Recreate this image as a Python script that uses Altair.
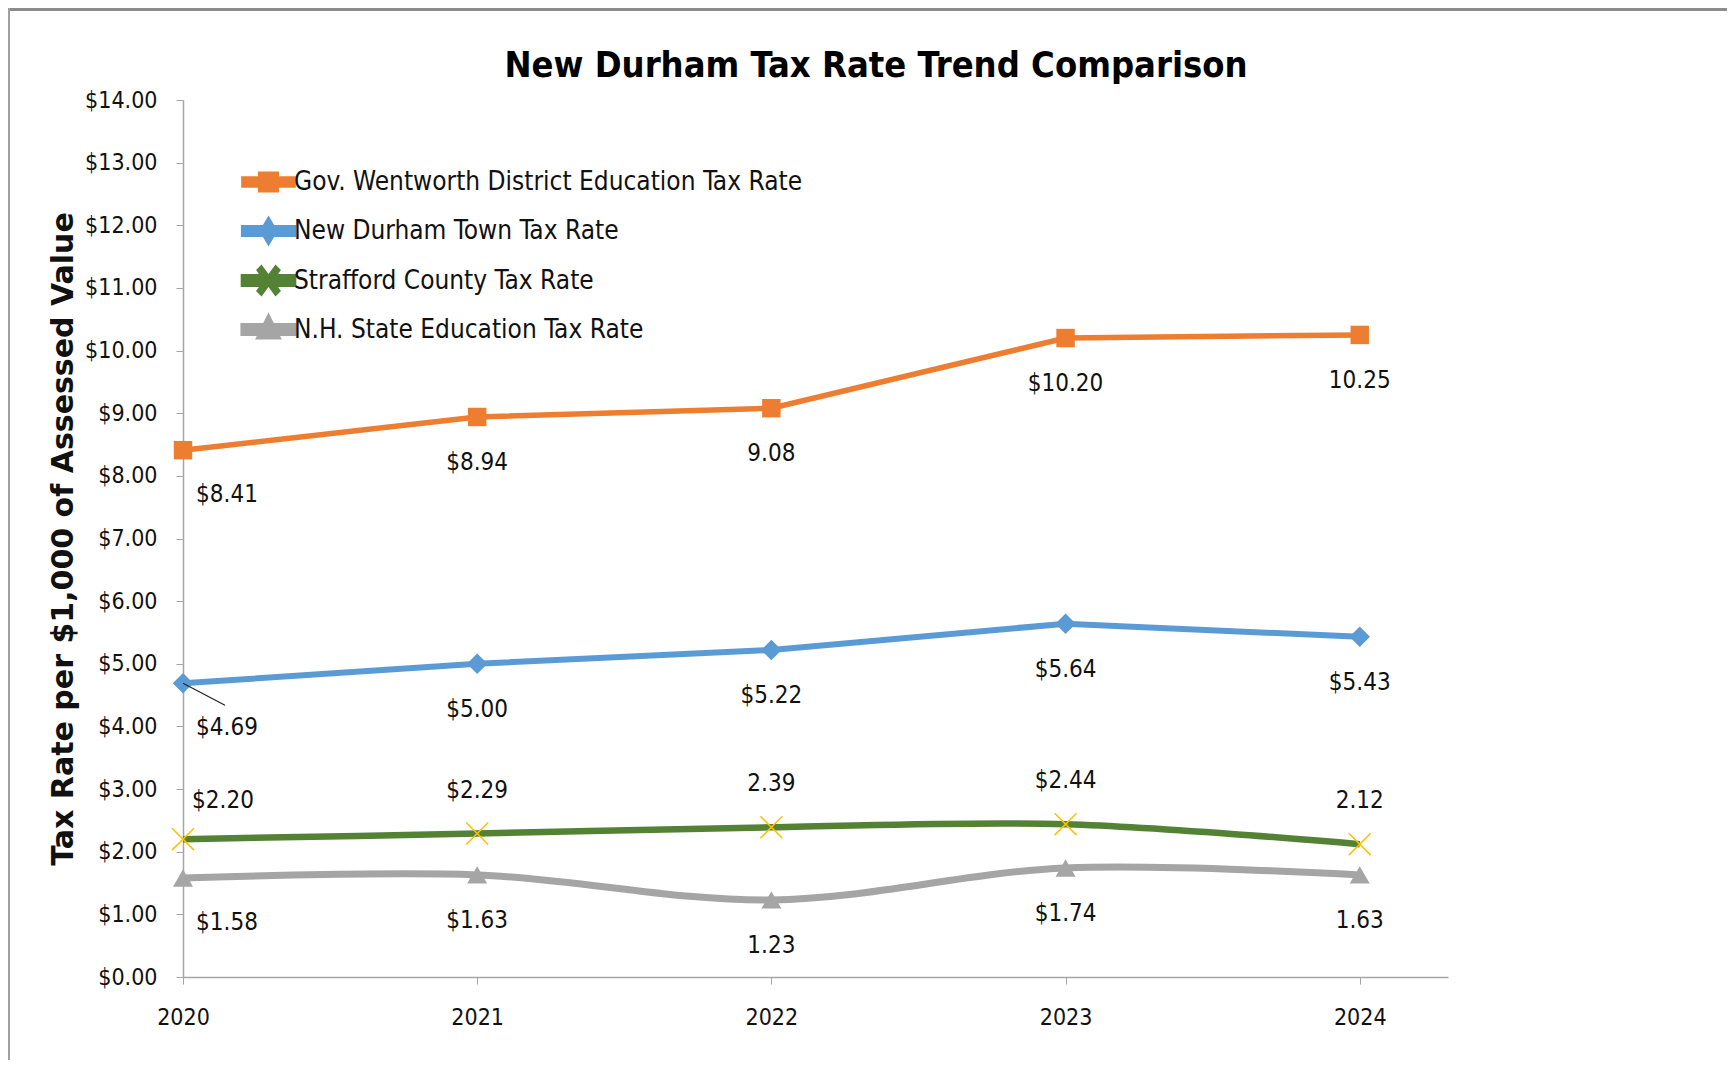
import altair as alt
import pandas as pd

years = [2020, 2021, 2022, 2023, 2024]
series_names = [
    "Gov. Wentworth District Education Tax Rate",
    "New Durham Town Tax Rate",
    "Strafford County Tax Rate",
    "N.H. State Education Tax Rate",
]
gov_values = [8.41, 8.94, 9.08, 10.20, 10.25]
town_values = [4.69, 5.00, 5.22, 5.64, 5.43]
county_values = [2.20, 2.29, 2.39, 2.44, 2.12]
state_values = [1.58, 1.63, 1.23, 1.74, 1.63]

gov_labels = ["$8.41", "$8.94", "9.08", "$10.20", "10.25"]
town_labels = ["$4.69", "$5.00", "$5.22", "$5.64", "$5.43"]
county_labels = ["$2.20", "$2.29", "2.39", "$2.44", "2.12"]
state_labels = ["$1.58", "$1.63", "1.23", "$1.74", "1.63"]

y_ticks = list(range(0, 15))

colors = ["#ED7D31", "#5B9BD5", "#548235", "#A5A5A5"]
line_widths = [5.5, 7, 8.5, 8.5]

rows = []
for name, vals, labs in zip(
    series_names,
    [gov_values, town_values, county_values, state_values],
    [gov_labels, town_labels, county_labels, state_labels],
):
    for yr, v, lb in zip(years, vals, labs):
        rows.append({"year": yr, "series": name, "value": v, "label": lb})
df = pd.DataFrame(rows)

FONT = "Liberation Sans Narrow, DejaVu Sans Condensed, sans-serif"
W, H = 1265, 877

x_enc = alt.X(
    "year:Q",
    scale=alt.Scale(domain=[2020, 2024.3], nice=False, zero=False),
    axis=alt.Axis(
        values=years, format="d", title=None, grid=False,
        labelFont=FONT, labelFontSize=23, labelColor="#111",
        domainColor="#A6A6A6", tickColor="#A6A6A6", tickSize=7,
        labelPadding=22, labelFlush=False, domainWidth=1.5,
    ),
)
y_enc = alt.Y(
    "value:Q",
    scale=alt.Scale(domain=[0, 14], nice=False),
    axis=alt.Axis(
        values=y_ticks, format="$.2f", grid=False,
        title="Tax Rate per $1,000 of Assessed Value",
        titleFont="DejaVu Sans", titleFontWeight="bold", titleFontSize=30,
        titleColor="#111", titleX=-120, titleY=H / 2, titleAngle=-90,
        titleAlign="center", titleBaseline="middle",
        labelFont=FONT, labelFontSize=23, labelColor="#111",
        domainColor="#A6A6A6", tickColor="#A6A6A6", tickSize=7,
        labelPadding=19, domainWidth=1.5,
    ),
)

color_scale = alt.Scale(domain=series_names, range=colors)
base = alt.Chart(df)

# legend symbols: line segment with marker
legend_paths = [
    "M-1.17,-0.14L1.17,-0.14L1.17,0.14L-1.17,0.14Z M-0.37,-0.37L0.37,-0.37L0.37,0.37L-0.37,0.37Z",
    "M-1.17,-0.14L1.17,-0.14L1.17,0.14L-1.17,0.14Z M0,-0.46L0.27,0L0,0.46L-0.27,0Z",
    "M-1.17,-0.16L1.17,-0.16L1.17,0.16L-1.17,0.16Z M-0.39,-0.48L-0.35,-0.52L0.39,0.48L0.35,0.52Z M0.35,-0.52L0.39,-0.48L-0.35,0.52L-0.39,0.48Z",
    "M-1.17,-0.14L1.17,-0.14L1.17,0.14L-1.17,0.14Z M0,-0.44L0.37,0.31L-0.37,0.31Z",
]

legend_layer = base.transform_filter("false").mark_point(filled=True, opacity=1).encode(
    x=x_enc, y=y_enc,
    color=alt.Color("series:N", scale=color_scale, legend=alt.Legend(
        title=None, orient="none", legendX=61, legendY=58,
        symbolSize=1764, symbolStrokeWidth=0, symbolOpacity=1,
        labelFont=FONT, labelFontSize=26, labelColor="#111",
        labelLimit=1000, labelOffset=1, rowPadding=0, padding=0,
        gridAlign="all",
    )),
    shape=alt.Shape("series:N", scale=alt.Scale(domain=series_names, range=legend_paths)),
)

line_linear = base.transform_filter(
    alt.FieldOneOfPredicate(field="series", oneOf=series_names[:2])
).mark_line(interpolate="linear").encode(
    x=x_enc, y=y_enc,
    color=alt.Color("series:N", scale=color_scale, legend=None),
    strokeWidth=alt.StrokeWidth("series:N", scale=alt.Scale(domain=series_names, range=line_widths), legend=None),
)
line_smooth = base.transform_filter(
    alt.FieldOneOfPredicate(field="series", oneOf=series_names[2:])
).mark_line(interpolate="catmull-rom").encode(
    x=x_enc, y=y_enc,
    color=alt.Color("series:N", scale=color_scale, legend=None),
    strokeWidth=alt.StrokeWidth("series:N", scale=alt.Scale(domain=series_names, range=line_widths), legend=None),
)

marker_styles = [
    (series_names[0], dict(shape="square", size=340, filled=True, opacity=1)),
    (series_names[1], dict(shape="diamond", size=420, filled=True, opacity=1)),
    (series_names[3], dict(shape="triangle-up", size=400, filled=True, opacity=1)),
]
point_layers = []
for name, style in marker_styles:
    point_layers.append(
        base.transform_filter(alt.datum.series == name).mark_point(**style).encode(
            x=x_enc, y=y_enc,
            color=alt.Color("series:N", scale=color_scale, legend=None),
        )
    )
x_points = base.transform_filter(alt.datum.series == series_names[2]).mark_point(
    shape="M-1,-1L1,1M-1,1L1,-1", size=480, filled=False, stroke="#FFC000",
    strokeWidth=1.5, opacity=1,
).encode(x=x_enc, y=y_enc)

leader = base.transform_filter(
    (alt.datum.series == series_names[1]) & (alt.datum.year == 2020)
).mark_rule(color="#222", strokeWidth=1.2, x2Offset=42, y2Offset=22).encode(
    x=x_enc, y=y_enc, x2="year:Q", y2="value:Q"
)

txt = dict(font=FONT, fontSize=24, color="#111", baseline="middle", align="center")
below = alt.FieldOneOfPredicate(field="series", oneOf=[series_names[0], series_names[1], series_names[3]])
label_below = base.transform_filter(below).transform_filter(alt.datum.year > 2020).mark_text(
    dy=46, **txt).encode(x=x_enc, y=y_enc, text="label:N")
label_below_first = base.transform_filter(below).transform_filter(alt.datum.year == 2020).mark_text(
    dy=45, dx=44, **txt).encode(x=x_enc, y=y_enc, text="label:N")
label_above = base.transform_filter(alt.datum.series == series_names[2]).transform_filter(
    alt.datum.year > 2020).mark_text(dy=-43, **txt).encode(x=x_enc, y=y_enc, text="label:N")
label_above_first = base.transform_filter(alt.datum.series == series_names[2]).transform_filter(
    alt.datum.year == 2020).mark_text(dy=-38, dx=40, **txt).encode(x=x_enc, y=y_enc, text="label:N")

frame_top = alt.Chart(df).mark_rule(color="#8C8C8C", strokeWidth=3).encode(
    x=alt.value(-175), x2=alt.value(W + 290), y=alt.value(-91))
frame_left = alt.Chart(df).mark_rule(color="#A0A0A0", strokeWidth=2).encode(
    x=alt.value(-174), y=alt.value(-92), y2=alt.value(H + 90))

chart = alt.layer(
    legend_layer, frame_top, frame_left, line_linear, line_smooth, *point_layers, x_points,
    leader, label_below, label_below_first, label_above, label_above_first,
).properties(
    width=W, height=H,
    title=alt.TitleParams(
        "New Durham Tax Rate Trend Comparison", font=FONT, fontSize=36,
        fontWeight="bold", color="#000", anchor="middle", dx=3,
        baseline="bottom", offset=-114, frame="bounds",
    ),
    autosize=alt.AutoSizeParams(type="none"),
    padding={"left": 175, "top": 92, "right": 279, "bottom": 83},
).configure(background="white").configure_view(stroke=None)

chart.save("out.html", embed_options={"renderer": "svg", "actions": False})
